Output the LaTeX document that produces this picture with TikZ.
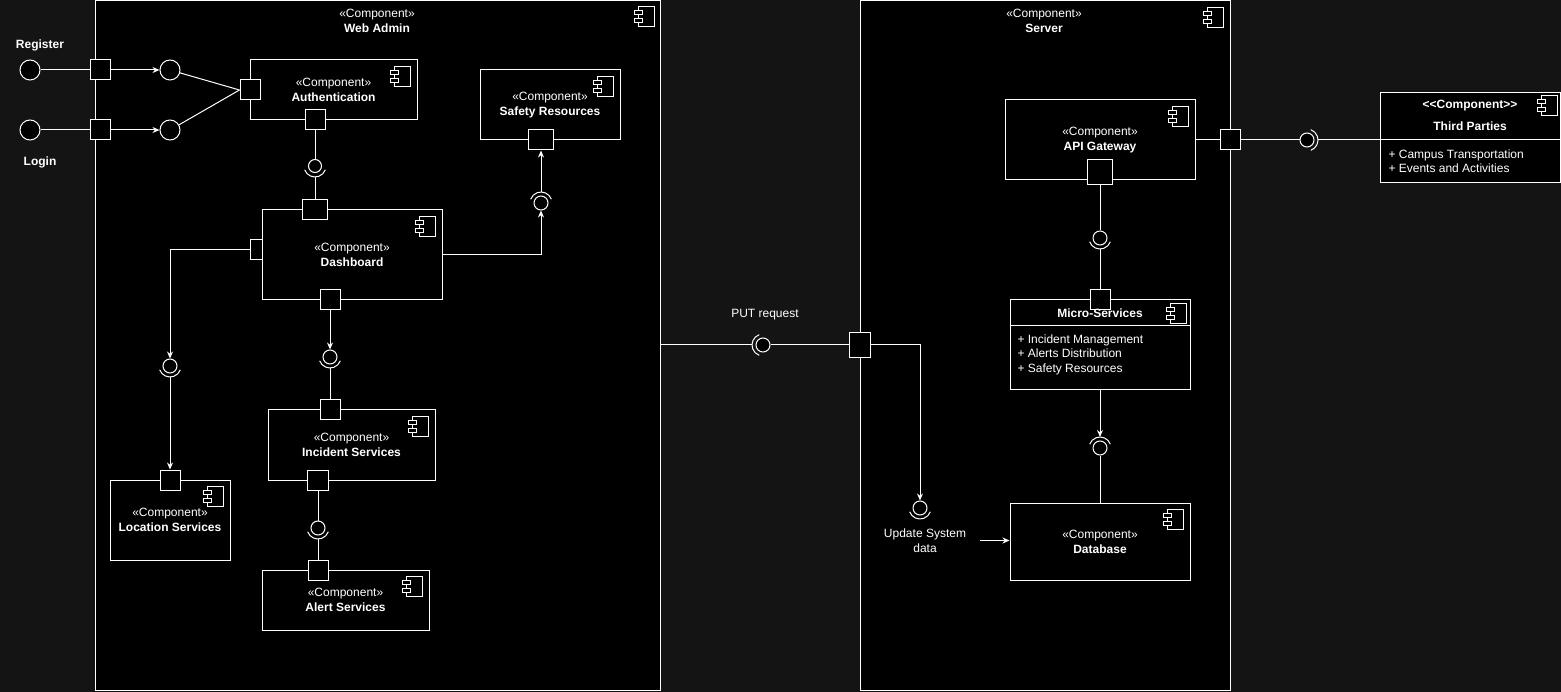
\documentclass[tikz,border=0pt]{standalone}
\usepackage{fontspec}
\setmainfont{Liberation Sans}
\usetikzlibrary{arrows.meta}
\definecolor{bgdark}{HTML}{141414}
\newcommand{\stereo}{«Component»}
\newcommand{\compicon}[2]{%
\begin{scope}[shift={(#1.north east)}, shift={(-#2,-#2)}]
\filldraw[fill = black] (-16,0) rectangle (0,-20);
\filldraw[fill = black] (-20,-4) rectangle (-12,-8);
\filldraw[fill = black] (-20,-12) rectangle (-12,-16);
\end{scope}}
\newcommand{\socket}[3]{\draw ([shift={(#2:11)}]#1.center) arc[start angle = #2, end angle = #3, radius = 11];}
\tikzset{
comp/.style = {draw = white, fill = black, inner sep = 0pt, text = white, align = center, font = \fontsize{12}{15}\selectfont},
port/.style = {draw = white, fill = black, inner sep = 0pt, minimum width = 20pt, minimum height = 20pt},
ball/.style = {circle, draw = white, fill = black, inner sep = 0pt, minimum size = 14pt},
lbl/.style = {text = white, inner sep = 0pt, align = center, font = \fontsize{12}{15}\selectfont},
items/.style = {lbl, align = left, anchor = west, font = \fontsize{12}{14.5}\selectfont}
}
\begin{document}
\begin{tikzpicture}[x = 1pt, y = 1pt, draw = white, line width = 1pt, >={Stealth[length=7pt,width=6pt]}]
\fill[bgdark] (0,0) rectangle (1561,-692);
\useasboundingbox (0,0) rectangle (1561,-692);
\node[comp, minimum width = 565pt, minimum height = 689pt] (webadmin) at (377.5,-345.5) {};
\node[comp, minimum width = 370pt, minimum height = 689pt] (server) at (1045,-345.5) {};
\node[lbl] (webadminTxt) at (377,-21) {\stereo\\\textbf{Web Admin}};
\node[lbl] (serverTxt) at (1044,-21) {\stereo\\\textbf{Server}};
\compicon{webadmin}{6}
\compicon{server}{7}
\node[comp, minimum width = 167pt, minimum height = 60pt] (auth) at (333.5,-90) {\stereo\\\textbf{Authentication}};
\node[comp, minimum width = 140pt, minimum height = 70pt] (safe) at (550,-105) {\stereo\\\textbf{Safety Resources}};
\node[comp, minimum width = 180pt, minimum height = 90pt] (dash) at (352,-255) {\stereo\\\textbf{Dashboard}};
\node[comp, minimum width = 120pt, minimum height = 80pt] (loc) at (170,-520) {\stereo\\\textbf{Location Services}};
\node[comp, minimum width = 167pt, minimum height = 70pt] (inc) at (351.5,-445) {\stereo\\\textbf{Incident Services}};
\node[comp, minimum width = 167pt, minimum height = 60pt] (alert) at (345.5,-600) {\stereo\\\textbf{Alert Services}};
\node[comp, minimum width = 190pt, minimum height = 80pt] (api) at (1100,-140) {\stereo\\\textbf{API Gateway}};
\node[comp, minimum width = 180pt, minimum height = 90pt] (micro) at (1100,-345) {};
\node[comp, minimum width = 180pt, minimum height = 77pt] (db) at (1100,-541.5) {\stereo\\\textbf{Database}};
\node[comp, minimum width = 180pt, minimum height = 90pt] (tp) at (1470,-138) {};
\draw ([yshift=-26pt]micro.north west) -- ([yshift=-26pt]micro.north east);
\draw ([yshift=-47pt]tp.north west) -- ([yshift=-47pt]tp.north east);
\compicon{auth}{7}
\compicon{safe}{7}
\compicon{dash}{7}
\compicon{loc}{7}
\compicon{inc}{7}
\compicon{alert}{7}
\compicon{api}{7}
\compicon{micro}{4}
\compicon{db}{7}
\compicon{tp}{3}
\node[port] (regP) at (100,-70) {};
\node[port] (logP) at (100,-130) {};
\node[port] (authL) at (250,-90) {};
\node[port] (authB) at (315,-120) {};
\node[port, minimum width = 25pt] (safeB) at (541,-140) {};
\node[port, minimum width = 25pt] (dashT) at (315,-210) {};
\node[port, minimum width = 12pt] (dashL) at (256,-250) {};
\node[port] (dashB) at (330,-300) {};
\node[port] (incT) at (330,-410) {};
\node[port, minimum width = 21pt] (incB) at (318,-480) {};
\node[port] (alertT) at (318,-570) {};
\node[port] (locT) at (170,-480) {};
\node[port, minimum width = 21pt, minimum height = 25pt] (putP) at (860,-345) {};
\node[port, minimum width = 25pt, minimum height = 25pt] (apiB) at (1100,-172) {};
\node[port] (microT) at (1100,-300) {};
\node[port] (srvR) at (1230,-140) {};
\node[lbl] (microTxt) at (1100,-313) {\textbf{Micro-Services}};
\node[items] (microItems) at (1017,-354.5) {+ Incident Management\\+ Alerts Distribution\\+ Safety Resources};
\node[lbl] (tpStereo) at (1470,-106) {\textbf{<\kern0pt<Component>\kern0pt>}};
\node[lbl] (tpTxt) at (1470,-126) {\textbf{Third Parties}};
\node[items] (tpItems) at (1388,-161) {+ Campus Transportation\\+ Events and Activities};
\node[ball, minimum size = 20pt] (regC) at (30,-70) {};
\node[ball, minimum size = 20pt] (logC) at (30,-130) {};
\node[ball, minimum size = 20pt] (regI) at (170,-70) {};
\node[ball, minimum size = 20pt] (logI) at (170,-130) {};
\node[lbl] (regTxt) at (40,-45) {\textbf{Register}};
\node[lbl] (logTxt) at (40,-162) {\textbf{Login}};
\node[ball, minimum size = 13pt] (bAuth) at (315,-166) {};
\node[ball] (bSafe) at (541,-203) {};
\node[ball] (bDash) at (330,-357) {};
\node[ball] (bLoc) at (170,-366) {};
\node[ball] (bInc) at (318,-528) {};
\node[ball] (bPut) at (763,-345) {};
\node[ball] (bUpd) at (920,-508) {};
\node[ball] (bApi) at (1100,-238) {};
\node[ball] (bDb) at (1100,-448) {};
\node[ball] (bTp) at (1307,-140) {};
\socket{bAuth}{200}{340}
\socket{bSafe}{20}{160}
\socket{bDash}{200}{340}
\socket{bLoc}{200}{340}
\socket{bInc}{200}{340}
\socket{bPut}{110}{250}
\socket{bUpd}{200}{340}
\socket{bApi}{200}{340}
\socket{bDb}{20}{160}
\socket{bTp}{-70}{70}
\node[lbl] (putTxt) at (765,-315) {PUT request};
\node[lbl] (updTxt) at (925,-540.5) {Update System\\data};
\draw (regC) -- (regP);
\draw[->] (regP) -- (regI);
\draw (regI) -- (authL.west);
\draw (logC) -- (logP);
\draw[->] (logP) -- (logI);
\draw (logI) -- (authL.west);
\draw (authB) -- (bAuth);
\draw ([yshift=-11pt]bAuth.center) -- (dashT);
\draw[->] (dash.east) -| (bSafe);
\draw[->] ([yshift=11pt]bSafe.center) -- (safeB);
\draw[->] (dashB) -- (bDash);
\draw ([yshift=-11pt]bDash.center) -- (incT);
\draw[->] (dashL.west) -| (bLoc);
\draw[->] ([yshift=-11pt]bLoc.center) -- (locT);
\draw (incB) -- (bInc);
\draw ([yshift=-11pt]bInc.center) -- (alertT);
\draw (webadmin.east |- bPut) -- ([xshift=-11pt]bPut.center);
\draw (bPut) -- (putP);
\draw[->] (putP.east) -| (bUpd);
\draw[->] ([xshift=13pt]updTxt.east) -- (db.west |- updTxt);
\draw (apiB) -- (bApi);
\draw ([yshift=-11pt]bApi.center) -- (microT);
\draw[->] (micro.south) -- ([yshift=11pt]bDb.center);
\draw (bDb) -- (db);
\draw (api.east |- srvR) -- (srvR);
\draw (srvR) -- (bTp);
\draw ([xshift=11pt]bTp.center) -- (tp.west |- bTp);
\end{tikzpicture}
\end{document}
